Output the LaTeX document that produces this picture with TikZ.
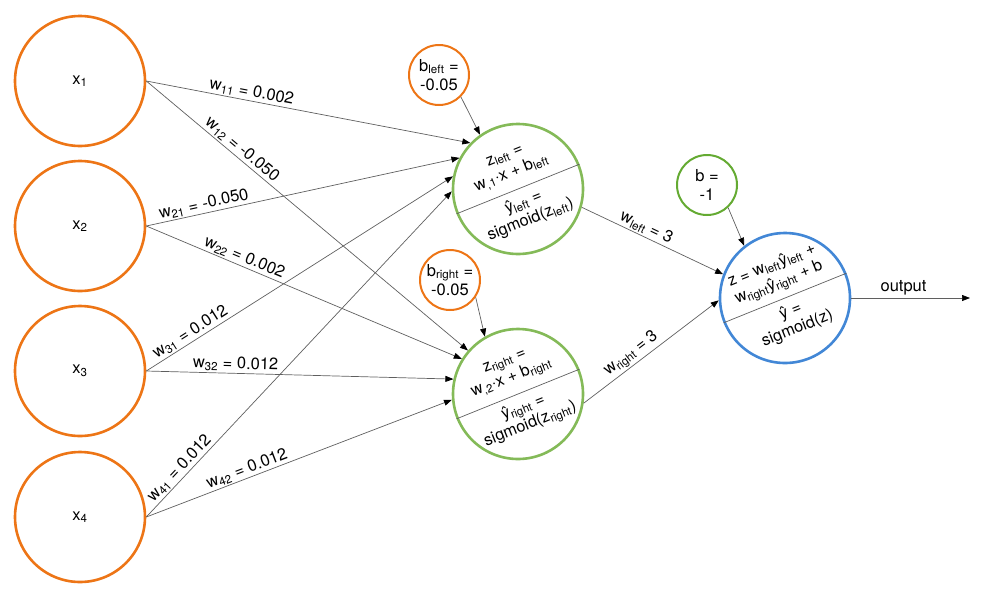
\documentclass[tikz,border=0pt]{standalone}
\usepackage{fontspec}
\setmainfont{TeX Gyre Heros}
\usepackage{tikz}
\usetikzlibrary{arrows.meta, calc}
\newcommand{\sbs}[1]{\textsubscript{#1}}
\definecolor{inorange}{RGB}{237,117,22}
\definecolor{hidgreen}{RGB}{132,186,88}
\definecolor{biasgreen}{RGB}{100,170,50}
\definecolor{outblue}{RGB}{66,135,214}
\definecolor{edgegrey}{RGB}{95,95,95}
\tikzset{
	inp/.style={circle, draw=inorange, line width=2.6pt, minimum size=130pt, inner sep=0pt},
	hid/.style={circle, draw=hidgreen, line width=2.6pt, minimum size=130pt, inner sep=0pt},
	outn/.style={circle, draw=outblue, line width=2.6pt, minimum size=130pt, inner sep=0pt},
	bias/.style={circle, draw=inorange, line width=2pt, minimum size=60pt, inner sep=0pt, align=center},
	wire/.style={draw=edgegrey, line width=0.7pt, -{Triangle[length=8pt, width=6pt, black]}},
	wlab/.style={above, sloped, inner sep=1.5pt},
	split/.style={draw=edgegrey, line width=0.7pt},
	half/.style={rotate=22, align=center, inner sep=0pt, font=\fontsize{16.3}{18.5}\selectfont},
}

\begin{document}
\begin{tikzpicture}[x=1pt, y=-1pt, font=\fontsize{16.5}{19}\selectfont]

	\useasboundingbox (0,0) rectangle (1000,600);

	\node[inp] (x1) at (80,81) {x\sbs{1}};
	\node[inp] (x2) at (80,226) {x\sbs{2}};
	\node[inp] (x3) at (80,371) {x\sbs{3}};
	\node[inp] (x4) at (80,517) {x\sbs{4}};

	\node[hid] (hl) at (518,189) {};
	\node[hid] (hr) at (518,394) {};
	\node[outn] (o) at (785,298) {};

	\node[bias] (bl) at (439,75) {b\sbs{left} =\\-0.05};
	\node[bias] (br) at (450,280) {b\sbs{right} =\\-0.05};
	\node[bias, draw=biasgreen] (b) at (707,185) {b =\\-1};
	\coordinate (out) at (970,298);

	\draw[split] (hl.202) -- (hl.22);
	\draw[split] (hr.202) -- (hr.22);
	\draw[split] (o.202) -- (o.22);

	\node[half] (hlz) at ($(hl)+(112:25pt)$) {z\sbs{left} =\\w\sbs{,1}·x + b\sbs{left}};
	\node[half] (hly) at ($(hl)+(-68:24pt)$) {ŷ\sbs{left} =\\sigmoid(z\sbs{left})};
	\node[half] (hrz) at ($(hr)+(112:25pt)$) {z\sbs{right} =\\w\sbs{,2}·x + b\sbs{right}};
	\node[half] (hry) at ($(hr)+(-68:24pt)$) {ŷ\sbs{right} =\\sigmoid(z\sbs{right})};
	\node[half] (oz) at ($(o)+(112:25pt)$) {z = w\sbs{left}ŷ\sbs{left} +\\w\sbs{right}ŷ\sbs{right} + b};
	\node[half] (oy) at ($(o)+(-68:24pt)$) {ŷ =\\sigmoid(z)};

	\draw[wire] (x1.east) -- node[wlab, pos=0.32] {w\sbs{11} = 0.002} (hl.136);
	\draw[wire] (x1.east) -- node[wlab, pos=0.28] {w\sbs{12} = -0.050} (hr.139);
	\draw[wire] (x2.east) -- node[wlab, pos=0.19] {w\sbs{21} = -0.050} (hl.152);
	\draw[wire] (x2.east) -- node[wlab, pos=0.30] {w\sbs{22} = 0.002} (hr.148);
	\draw[wire] (x3.east) -- node[wlab, pos=0.16] {w\sbs{31} = 0.012} (hl.169);
	\draw[wire] (x3.east) -- node[wlab, pos=0.29] {w\sbs{32} = 0.012} (hr.167);
	\draw[wire] (x4.east) -- node[wlab, pos=0.13] {w\sbs{41} = 0.012} (hl.182);
	\draw[wire] (x4.east) -- node[wlab, pos=0.34] {w\sbs{42} = 0.012} (hr.185);

	\draw[wire] (bl.-45) -- (hl.125);
	\draw[wire] (br.-34) -- (hr.120);
	\draw[wire] (b.-47) -- (o.128);

	\draw[wire] (hl.-16) -- node[wlab, pos=0.43] {w\sbs{left} = 3} (o.159);
	\draw[wire] (hr.-8) -- node[wlab, pos=0.40] {w\sbs{right} = 3} (o.182);
	\draw[wire] (o.east) -- node[above, pos=0.44, inner sep=3pt] {output} (out);

\end{tikzpicture}
\end{document}
